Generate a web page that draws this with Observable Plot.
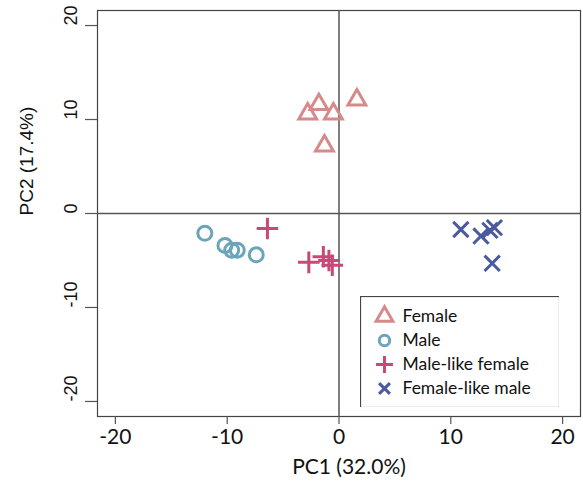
<!DOCTYPE html>
<html>
<head>
<meta charset="utf-8">
<script src="https://cdn.jsdelivr.net/npm/d3@7"></script>
<script src="https://cdn.jsdelivr.net/npm/@observablehq/plot@0.6"></script>
<style>
  html, body { margin: 0; padding: 0; background: #fff; }
  #wrap { position: relative; width: 583px; height: 489px; }
  #legend { position: absolute; left: 360px; top: 296px; }
</style>
</head>
<body>
<div id="wrap"><div id="chart"></div><div id="legend"></div></div>
<script>
const categories = ["Female", "Male", "Male-like female", "Female-like male"];
const colors = ["#d68a8b", "#6aa5ba", "#c94878", "#4a5a9e"];
const symbols = ["triangle2", "circle", "plus", "times"];

const femaleX = [-1.8, -2.8, -0.5, 1.6, -1.3];
const femaleY = [11.6, 10.6, 10.6, 12.1, 7.2];
const maleX = [-12.0, -10.2, -9.6, -9.1, -7.4];
const maleY = [-2.1, -3.4, -3.9, -3.9, -4.4];
const mlfX = [-6.4, -2.7, -1.4, -0.9, -0.6];
const mlfY = [-1.6, -5.2, -4.6, -5.0, -5.5];
const flmX = [10.9, 12.7, 13.5, 13.9, 13.7];
const flmY = [-1.7, -2.4, -1.8, -1.5, -5.3];

const xTicks = [-20, -10, 0, 10, 20];
const yTicks = [-20, -10, 0, 10, 20];
const xTitle = "PC1 (32.0%)";
const yTitle = "PC2 (17.4%)";

const series = [
  [femaleX, femaleY], [maleX, maleY], [mlfX, mlfY], [flmX, flmY]
].map(([xs, ys], i) => xs.map((x, j) => ({x, y: ys[j], group: categories[i]})));

const plotR = [8.5, 7, 7, 7];
const legendR = [8, 5.2, 5.5, 5];

const chart = Plot.plot({
  width: 583,
  height: 489,
  marginLeft: 97,
  marginRight: 3,
  marginTop: 10,
  marginBottom: 73,
  x: {domain: [-21.6, 21.6]},
  y: {domain: [-21.6, 21.6]},
  marks: [
    Plot.frame({stroke: "#444", strokeWidth: 1.2}),
    Plot.ruleX([0], {stroke: "#555", strokeWidth: 1.5}),
    Plot.ruleY([0], {stroke: "#555", strokeWidth: 1.5}),
    Plot.axisX({ticks: xTicks, tickSize: 8, tickFormat: () => "", label: null, stroke: "#555", strokeWidth: 1.2}),
    Plot.axisY({ticks: yTicks, tickSize: 12, tickFormat: () => "", label: null, stroke: "#555", strokeWidth: 1.2}),
    Plot.text(xTicks, {x: d => d, text: d => String(d), frameAnchor: "bottom", dy: 27, fontSize: 21, fontFamily: "Lato", fill: "#111"}),
    Plot.text(yTicks, {y: d => d, text: d => String(d), frameAnchor: "left", dx: -26, rotate: -90, fontSize: 18, fontFamily: "Liberation Sans", fill: "#111"}),
    Plot.text([xTitle], {text: d => d, frameAnchor: "bottom", dx: 10, dy: 57, fontSize: 21, fontFamily: "Lato", fill: "#111"}),
    Plot.text([yTitle], {text: d => d, frameAnchor: "left", dx: -71, dy: 2, rotate: -90, fontSize: 19, fontFamily: "Liberation Sans", fill: "#111"}),
    ...series.map((data, i) => Plot.dot(data, {
      x: "x", y: "y", symbol: symbols[i], r: plotR[i], stroke: colors[i], strokeWidth: 3, fill: "none"
    }))
  ]
});
document.getElementById("chart").appendChild(chart);

const legend = Plot.plot({
  width: 199,
  height: 111,
  margin: 0,
  x: {axis: null},
  y: {type: "point", domain: categories, range: [19, 93], padding: 0, axis: null},
  marks: [
    Plot.frame({stroke: "#444", strokeWidth: 1.2}),
    ...categories.map((c, i) => Plot.dot([c], {
      y: d => d, frameAnchor: "left", dx: 24, symbol: symbols[i], r: legendR[i], stroke: colors[i], strokeWidth: 3, fill: "none"
    })),
    Plot.text(categories, {y: d => d, text: d => d, frameAnchor: "left", dx: 42, textAnchor: "start", fontSize: 17.5, fontFamily: "Lato", fill: "#111"})
  ]
});
document.getElementById("legend").appendChild(legend);
</script>
</body>
</html>
